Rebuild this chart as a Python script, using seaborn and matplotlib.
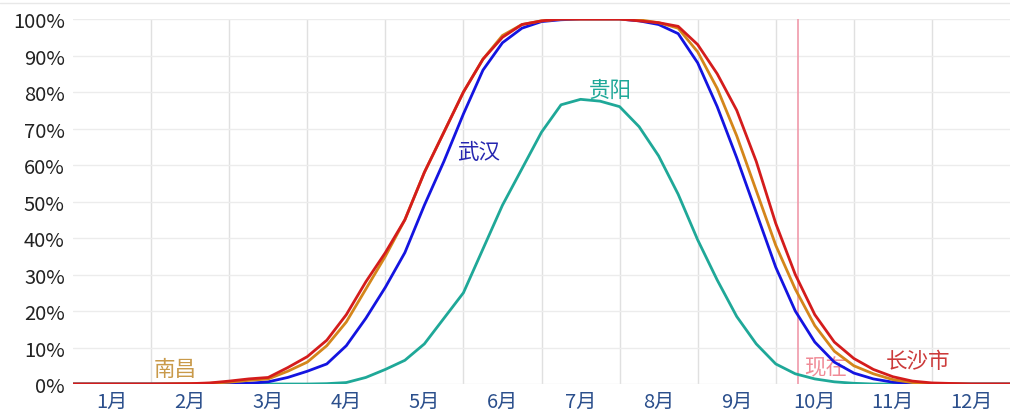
import matplotlib
matplotlib.use("Agg")
import matplotlib.pyplot as plt
import matplotlib.ticker as mticker
from matplotlib.lines import Line2D
import pandas as pd
import seaborn as sns

sns.set_style("white")
plt.rcParams["font.family"] = ["Noto Sans CJK SC", "DejaVu Sans"]

# x positions in months since 1 Jan (0 = 1月1日, 12 = year end)
months = [0, 0.5, 1.0, 1.5, 1.75, 2.0, 2.25, 2.5, 2.75, 3.0, 3.25, 3.5, 3.75,
          4.0, 4.25, 4.5, 4.75, 5.0, 5.25, 5.5, 5.75, 6.0, 6.25, 6.5, 6.75,
          7.0, 7.25, 7.5, 7.75, 8.0, 8.25, 8.5, 8.75, 9.0, 9.25, 9.5, 9.75,
          10.0, 10.25, 10.5, 10.75, 11.0, 11.5, 12.0]

changsha = [0, 0, 0, 0.1, 0.3, 0.8, 1.4, 1.8, 4.5, 7.5, 12, 19, 28,
            36, 45, 58, 69, 80, 89, 95, 98.5, 99.5, 100, 100, 100,
            100, 99.5, 99, 98, 93, 85, 75, 61, 44, 30, 19, 11.5,
            7, 4, 2, 0.8, 0.3, 0, 0]
nanchang = [0, 0, 0, 0.1, 0.2, 0.5, 1.0, 1.4, 3.5, 6, 10.5, 17, 26,
            35, 45, 58, 69, 80, 89, 95.5, 98.5, 99.5, 100, 100, 100,
            100, 99.8, 99, 97.5, 91, 81, 68, 53, 38, 26, 16, 9,
            5, 2.8, 1.2, 0.4, 0.1, 0, 0]
wuhan = [0, 0, 0, 0, 0, 0, 0.2, 0.6, 1.8, 3.5, 5.5, 10.5, 18,
         26.5, 36, 49, 61, 74, 86, 93.5, 97.5, 99.3, 99.8, 100, 100,
         100, 99.5, 98.5, 96, 88, 76, 62, 47, 32, 20, 11.5, 6,
         3, 1.4, 0.5, 0.1, 0, 0, 0]
guiyang = [0, 0, 0, 0, 0, 0, 0, 0, 0, 0, 0.1, 0.4, 1.8,
           4, 6.5, 11, 18, 25, 37, 49, 59, 69, 76.5, 78, 77.5,
           76, 70.5, 62.5, 52, 39.5, 28.5, 18.5, 11, 5.5, 2.8, 1.4, 0.6,
           0.2, 0, 0, 0, 0, 0, 0]

cities = ["长沙市", "南昌", "武汉", "贵阳"]
month_labels = ["1月", "2月", "3月", "4月", "5月", "6月",
                "7月", "8月", "9月", "10月", "11月", "12月"]
now_month = 9.28

palette = {"长沙市": "#d41c1c", "南昌": "#d4861a", "武汉": "#1414e0", "贵阳": "#1fa898"}

df = pd.concat([
    pd.DataFrame({"month": months, "pct": vals, "city": name})
    for name, vals in zip(cities, [changsha, nanchang, wuhan, guiyang])
])

fig = plt.figure(figsize=(10.1, 4.14), dpi=100)
ax = fig.add_axes([0.0723, 0.070, 0.9277, 0.8816])

sns.lineplot(data=df, x="month", y="pct", hue="city", hue_order=cities[::-1],
             palette=palette, linewidth=2.0, legend=False, ax=ax, zorder=3)

ax.set_xlim(0, 12)
ax.set_ylim(0, 100)

# month boundaries as grid, labels centered in each month
ax.xaxis.set_major_locator(mticker.FixedLocator(range(1, 12)))
ax.xaxis.set_major_formatter(mticker.NullFormatter())
ax.xaxis.set_minor_locator(mticker.FixedLocator([i + 0.5 for i in range(12)]))
ax.xaxis.set_minor_formatter(mticker.FixedFormatter(month_labels))
ax.tick_params(axis="x", which="major", length=6, color="#dddddd", width=1)
ax.tick_params(axis="x", which="minor", length=0, labelsize=14.5,
               labelcolor="#2b4f8c", pad=5)

ax.yaxis.set_major_locator(mticker.MultipleLocator(10))
ax.yaxis.set_major_formatter(mticker.FuncFormatter(lambda v, p: f"{v:.0f}%"))
ax.tick_params(axis="y", length=0, labelsize=14.5, labelcolor="#222222", pad=6)

ax.grid(True, axis="y", color="#ececec", linewidth=1)
ax.grid(True, axis="x", which="major", color="#e0e0e0", linewidth=1)
for s in ax.spines.values():
    s.set_visible(False)
ax.set_xlabel("")
ax.set_ylabel("")

# faint border line at the very top of the figure
fig.add_artist(Line2D([0, 1], [0.99, 0.99], color="#e8e8e8", linewidth=1))

# "now" marker
ax.axvline(now_month, color="#f09aaa", linewidth=1.2, zorder=2)
ax.text(now_month + 0.08, 4.5, "现在", color="#f08a96", fontsize=15.5,
        ha="left", va="center", zorder=1)

# city labels
ax.text(1.31, 4.2, "南昌", color="#c99a4a", fontsize=15.5, ha="center", va="center")
ax.text(5.2, 63.5, "武汉", color="#2626b0", fontsize=15.5, ha="center", va="center")
ax.text(6.88, 80.5, "贵阳", color="#1fa898", fontsize=15.5, ha="center", va="center")
ax.text(10.82, 6.3, "长沙市", color="#cc3a3a", fontsize=15.5, ha="center", va="center")

plt.savefig("out.png", dpi=100)
